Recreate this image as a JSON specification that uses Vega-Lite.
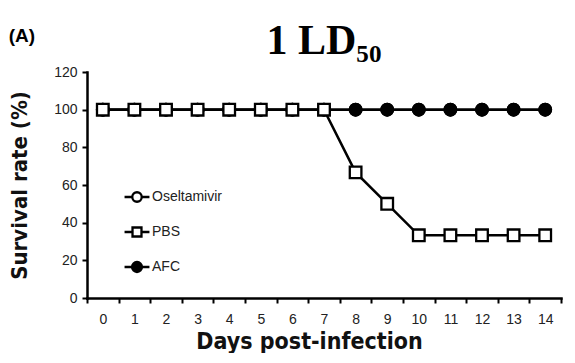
{
  "$schema": "https://vega.github.io/schema/vega-lite/v6.json",
  "padding": {"left": 8, "top": 20, "right": 10, "bottom": 0},
  "background": "white",
  "title": {"text": "(A)", "anchor": "start", "frame": "bounds", "font": "Liberation Sans", "fontSize": 19, "fontWeight": "bold", "color": "black", "offset": -20, "dy": 6},
  "data": {"values": [
    {"panel": "1 LD₅₀", "series": "Oseltamivir", "day": 0, "survival": 100},
    {"panel": "1 LD₅₀", "series": "Oseltamivir", "day": 1, "survival": 100},
    {"panel": "1 LD₅₀", "series": "Oseltamivir", "day": 2, "survival": 100},
    {"panel": "1 LD₅₀", "series": "Oseltamivir", "day": 3, "survival": 100},
    {"panel": "1 LD₅₀", "series": "Oseltamivir", "day": 4, "survival": 100},
    {"panel": "1 LD₅₀", "series": "Oseltamivir", "day": 5, "survival": 100},
    {"panel": "1 LD₅₀", "series": "Oseltamivir", "day": 6, "survival": 100},
    {"panel": "1 LD₅₀", "series": "Oseltamivir", "day": 7, "survival": 100},
    {"panel": "1 LD₅₀", "series": "Oseltamivir", "day": 8, "survival": 100},
    {"panel": "1 LD₅₀", "series": "Oseltamivir", "day": 9, "survival": 100},
    {"panel": "1 LD₅₀", "series": "Oseltamivir", "day": 10, "survival": 100},
    {"panel": "1 LD₅₀", "series": "Oseltamivir", "day": 11, "survival": 100},
    {"panel": "1 LD₅₀", "series": "Oseltamivir", "day": 12, "survival": 100},
    {"panel": "1 LD₅₀", "series": "Oseltamivir", "day": 13, "survival": 100},
    {"panel": "1 LD₅₀", "series": "Oseltamivir", "day": 14, "survival": 100},
    {"panel": "1 LD₅₀", "series": "AFC", "day": 0, "survival": 100},
    {"panel": "1 LD₅₀", "series": "AFC", "day": 1, "survival": 100},
    {"panel": "1 LD₅₀", "series": "AFC", "day": 2, "survival": 100},
    {"panel": "1 LD₅₀", "series": "AFC", "day": 3, "survival": 100},
    {"panel": "1 LD₅₀", "series": "AFC", "day": 4, "survival": 100},
    {"panel": "1 LD₅₀", "series": "AFC", "day": 5, "survival": 100},
    {"panel": "1 LD₅₀", "series": "AFC", "day": 6, "survival": 100},
    {"panel": "1 LD₅₀", "series": "AFC", "day": 7, "survival": 100},
    {"panel": "1 LD₅₀", "series": "AFC", "day": 8, "survival": 100},
    {"panel": "1 LD₅₀", "series": "AFC", "day": 9, "survival": 100},
    {"panel": "1 LD₅₀", "series": "AFC", "day": 10, "survival": 100},
    {"panel": "1 LD₅₀", "series": "AFC", "day": 11, "survival": 100},
    {"panel": "1 LD₅₀", "series": "AFC", "day": 12, "survival": 100},
    {"panel": "1 LD₅₀", "series": "AFC", "day": 13, "survival": 100},
    {"panel": "1 LD₅₀", "series": "AFC", "day": 14, "survival": 100},
    {"panel": "1 LD₅₀", "series": "PBS", "day": 0, "survival": 100},
    {"panel": "1 LD₅₀", "series": "PBS", "day": 1, "survival": 100},
    {"panel": "1 LD₅₀", "series": "PBS", "day": 2, "survival": 100},
    {"panel": "1 LD₅₀", "series": "PBS", "day": 3, "survival": 100},
    {"panel": "1 LD₅₀", "series": "PBS", "day": 4, "survival": 100},
    {"panel": "1 LD₅₀", "series": "PBS", "day": 5, "survival": 100},
    {"panel": "1 LD₅₀", "series": "PBS", "day": 6, "survival": 100},
    {"panel": "1 LD₅₀", "series": "PBS", "day": 7, "survival": 100},
    {"panel": "1 LD₅₀", "series": "PBS", "day": 8, "survival": 66.7},
    {"panel": "1 LD₅₀", "series": "PBS", "day": 9, "survival": 50},
    {"panel": "1 LD₅₀", "series": "PBS", "day": 10, "survival": 33.3},
    {"panel": "1 LD₅₀", "series": "PBS", "day": 11, "survival": 33.3},
    {"panel": "1 LD₅₀", "series": "PBS", "day": 12, "survival": 33.3},
    {"panel": "1 LD₅₀", "series": "PBS", "day": 13, "survival": 33.3},
    {"panel": "1 LD₅₀", "series": "PBS", "day": 14, "survival": 33.3}
  ]},
  "facet": {"column": {"field": "panel", "type": "nominal", "title": null,
    "header": {"labelFont": "Liberation Serif", "labelFontSize": 42, "labelFontWeight": "bold", "labelColor": "black", "labelPadding": 2}}},
  "resolve": {"axis": {"x": "independent", "y": "independent"}},
  "spec": {
    "width": 474,
    "height": 226,
    "resolve": {"scale": {"shape": "independent"}},
    "encoding": {
      "x": {"field": "day", "type": "ordinal", "scale": {"type": "band", "paddingInner": 0, "paddingOuter": 0},
        "axis": {"title": "Days post-infection", "labelAngle": 0, "tickBand": "extent", "labelFont": "Liberation Sans", "labelFontSize": 14, "labelColor": "#222",
          "labelPadding": 9, "tickSize": 5, "tickWidth": 2, "tickColor": "black", "domainColor": "black", "domainWidth": 2.5,
          "titleFont": "Liberation Sans Narrow, DejaVu Sans Condensed, Roboto Condensed, Liberation Sans", "titleFontSize": 23, "titleFontWeight": "bold", "titleColor": "#111", "titlePadding": 4, "titleX": 222}},
      "y": {"field": "survival", "type": "quantitative", "scale": {"domain": [0, 120], "nice": false},
        "axis": {"title": "Survival rate (%)", "values": [0, 20, 40, 60, 80, 100, 120], "grid": false, "labelFont": "Liberation Sans", "labelFontSize": 14, "labelColor": "#222",
          "labelPadding": 5, "tickSize": 5, "tickWidth": 2, "tickColor": "black", "domainColor": "black", "domainWidth": 2.5,
          "titleFont": "Liberation Sans Narrow, DejaVu Sans Condensed, Roboto Condensed, Liberation Sans", "titleFontSize": 22, "titleFontWeight": "bold", "titleColor": "#111", "titlePadding": 22}}
    },
    "layer": [
      {"mark": {"type": "line", "color": "black", "strokeWidth": 2.5},
       "encoding": {"detail": {"field": "series", "type": "nominal"}}},
      {"mark": {"type": "point", "filled": true, "stroke": "black", "strokeWidth": 2.3, "size": 135, "opacity": 1},
       "encoding": {
         "shape": {"field": "series", "type": "nominal", "scale": {"domain": ["Oseltamivir", "PBS", "AFC"], "range": ["circle", "square", "circle"]}, "legend": null},
         "fill": {"field": "series", "type": "nominal", "scale": {"domain": ["Oseltamivir", "PBS", "AFC"], "range": ["white", "white", "black"]}, "legend": null}
       }},
      {"transform": [{"filter": "false"}],
       "mark": {"type": "point", "filled": false, "color": "black", "strokeWidth": 2.3, "opacity": 1},
       "encoding": {
         "shape": {"field": "series", "type": "nominal",
           "scale": {"domain": ["Oseltamivir", "PBS", "AFC"], "range": [
             "M-1,0H-0.38M0.38,0H1M-0.38,0A0.38,0.38 0 1,0 0.38,0A0.38,0.38 0 1,0 -0.38,0Z",
             "M-1,0H-0.36M0.36,0H1M-0.36,-0.36H0.36V0.36H-0.36Z",
             "M-1,0H1M-0.4,0A0.4,0.4 0 1,0 0.4,0A0.4,0.4 0 1,0 -0.4,0ZM-0.27,0A0.27,0.27 0 1,0 0.27,0A0.27,0.27 0 1,0 -0.27,0ZM-0.14,0A0.14,0.14 0 1,0 0.14,0A0.14,0.14 0 1,0 -0.14,0Z"]},
           "legend": {"title": null, "orient": "none", "legendX": 36, "legendY": 111, "symbolSize": 620, "symbolStrokeWidth": 2.3, "symbolStrokeColor": "black", "symbolFillColor": "transparent", "symbolOpacity": 1,
             "labelFont": "Liberation Sans", "labelFontSize": 14, "labelColor": "#222", "labelOffset": 1, "rowPadding": 11, "symbolOffset": 0}}
       }}
    ]
  },
  "config": {"view": {"stroke": null}, "axis": {"domainCap": "square"}}
}
